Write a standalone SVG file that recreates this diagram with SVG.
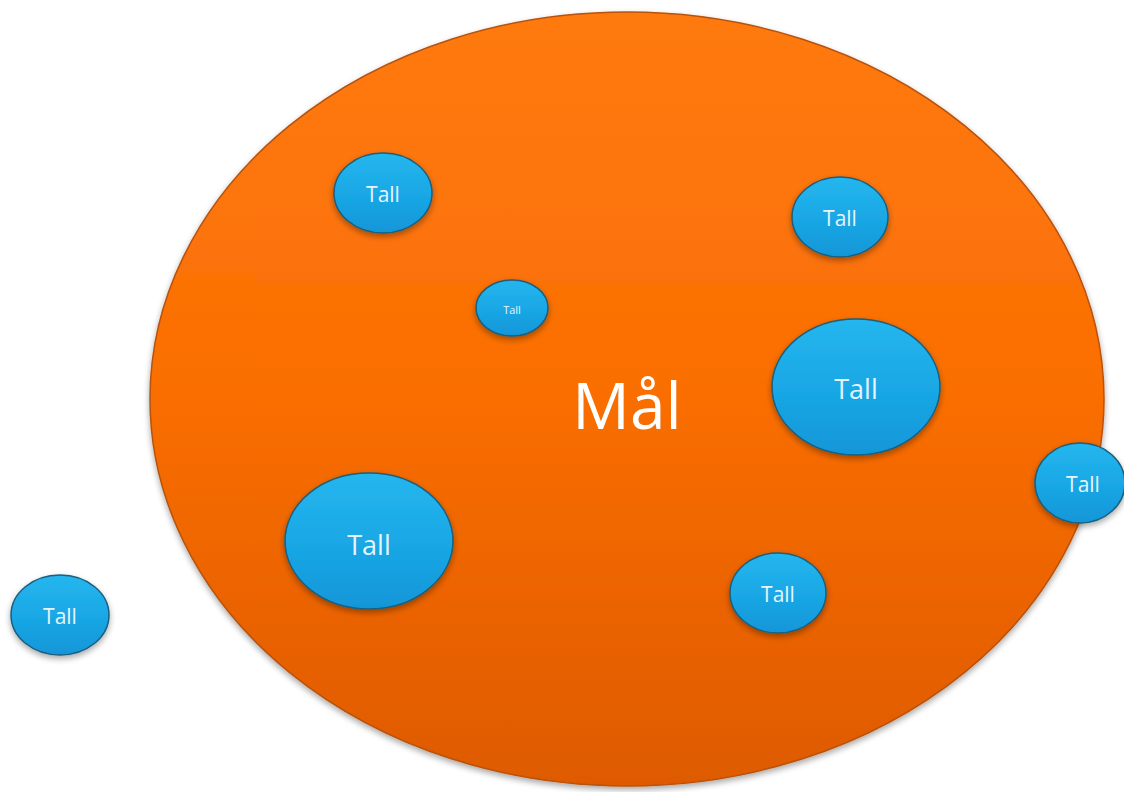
<svg xmlns="http://www.w3.org/2000/svg" width="1124" height="792" viewBox="0 0 1124 792">
<defs>
<linearGradient id="og" x1="0" y1="0" x2="0" y2="1">
<stop offset="0" stop-color="#FF7A0C"/>
<stop offset="0.5" stop-color="#FA6E04"/>
<stop offset="1" stop-color="#DE5A02"/>
</linearGradient>
<linearGradient id="bg" x1="0" y1="0" x2="0" y2="1">
<stop offset="0" stop-color="#25B6EE"/>
<stop offset="0.5" stop-color="#1AA8E6"/>
<stop offset="1" stop-color="#1196D8"/>
</linearGradient>
<filter id="sh" x="-10%" y="-10%" width="120%" height="125%">
<feGaussianBlur in="SourceAlpha" stdDeviation="3"/>
<feOffset dy="3"/>
<feComponentTransfer><feFuncA type="linear" slope="0.35"/></feComponentTransfer>
<feMerge><feMergeNode/><feMergeNode in="SourceGraphic"/></feMerge>
</filter>
</defs>
<style>
.blue{fill:url(#bg);stroke:#1A5E7E;stroke-width:1.5;filter:url(#sh)}
.t{font-family:"Open Sans","Liberation Sans",sans-serif;fill:#E6F5FC;text-anchor:middle;dominant-baseline:central}
</style>
<rect width="1124" height="792" fill="#FFFFFF"/>
<g id="goal">
<ellipse cx="627" cy="399" rx="477" ry="387" fill="url(#og)" stroke="#B8520A" stroke-width="1.5" filter="url(#sh)"/>
<text x="627" y="404" class="t" style="font-size:64px;fill:#FFFFFF">Mål</text>
</g>
<g id="n1"><ellipse class="blue" cx="383" cy="193" rx="49" ry="40"/><text x="383" y="194" class="t" font-size="21">Tall</text></g>
<g id="n2"><ellipse class="blue" cx="840" cy="217" rx="48" ry="40"/><text x="840" y="218" class="t" font-size="21">Tall</text></g>
<g id="n3"><ellipse class="blue" cx="512" cy="308" rx="36" ry="28"/><text x="512" y="309" class="t" font-size="11">Tall</text></g>
<g id="n4"><ellipse class="blue" cx="856" cy="387" rx="84" ry="68"/><text x="856" y="388" class="t" font-size="27">Tall</text></g>
<g id="n5"><ellipse class="blue" cx="1080" cy="483" rx="45" ry="40"/><text x="1083" y="484" class="t" font-size="21">Tall</text></g>
<g id="n6"><ellipse class="blue" cx="369" cy="541" rx="84" ry="68"/><text x="369" y="544" class="t" font-size="27">Tall</text></g>
<g id="n7"><ellipse class="blue" cx="778" cy="593" rx="48" ry="40"/><text x="778" y="594" class="t" font-size="21">Tall</text></g>
<g id="n8"><ellipse class="blue" cx="60" cy="615" rx="49" ry="40"/><text x="60" y="616" class="t" font-size="21">Tall</text></g>
<g id="connectors"/>
</svg>
